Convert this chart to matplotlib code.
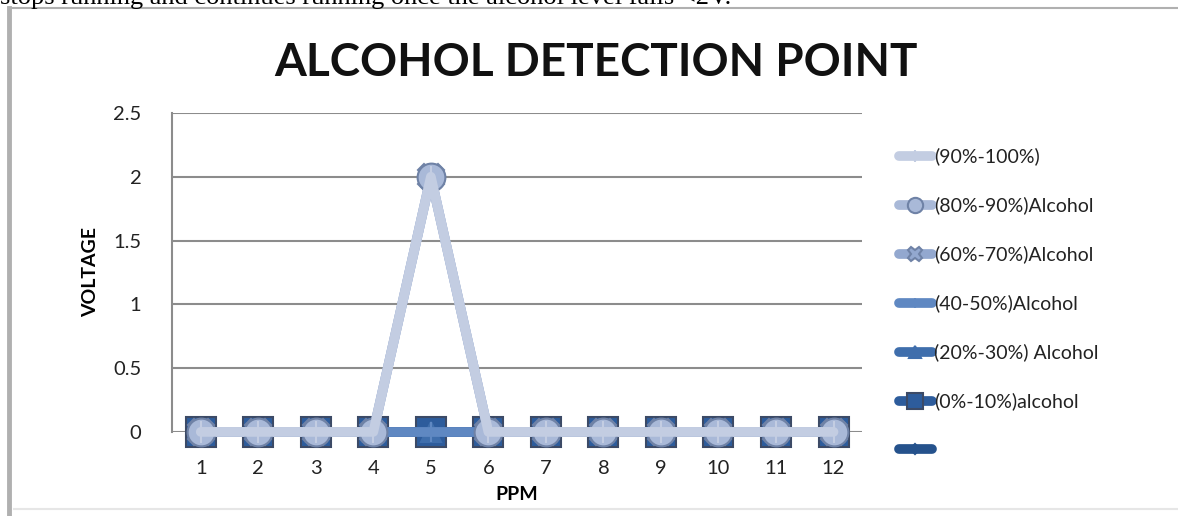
import matplotlib.pyplot as plt
from matplotlib.lines import Line2D

ppm = [1, 2, 3, 4, 5, 6, 7, 8, 9, 10, 11, 12]
yticks = [0, 0.5, 1, 1.5, 2, 2.5]

labels = ['(90%-100%)', '(80%-90%)Alcohol', '(60%-70%)Alcohol', '(40-50%)Alcohol',
          '(20%-30%) Alcohol', '(0%-10%)alcohol', ' ']
v90 = [0, 0, 0, 0, 2, 0, 0, 0, 0, 0, 0, 0]
v80 = [0, 0, 0, 0, 2, 0, 0, 0, 0, 0, 0, 0]
v60 = [0, 0, 0, 0, 2, 0, 0, 0, 0, 0, 0, 0]
v40 = [0, 0, 0, 0, 0, 0, 0, 0, 0, 0, 0, 0]
v20 = [0, 0, 0, 0, 0, 0, 0, 0, 0, 0, 0, 0]
v0 = [0, 0, 0, 0, 0, 0, 0, 0, 0, 0, 0, 0]
vx = [0, 0, 0, 0, 0, 0, 0, 0, 0, 0, 0, 0]
series = [v90, v80, v60, v40, v20, v0, vx]

colors = ['#c3cde2', '#a9b9d8', '#93a8cf', '#5f88c2', '#3f6eac', '#2d5c9c', '#25528c']
markers = ['|', 'o', 'X', '+', '^', 's', 'D']
msizes = [16, 20, 19, 14, 15, 22, 10]
edges = ['#c3cde2', '#6f82a6', '#6f82a6', '#5f88c2', '#3f6eac', '#3c4a66', '#25528c']

plt.rcParams['font.family'] = ['Lato', 'DejaVu Sans']

fig = plt.figure(figsize=(11.78, 5.16), dpi=100)

# page text above the chart (cut off)
fig.text(0.0, 1 - 4 / 516, 'stops running and continues running once the alcohol level falls <2V.',
         family='Liberation Serif', fontsize=19, va='baseline', ha='left', color='black')

# chart frame
fig.add_artist(Line2D([0.008, 0.008], [0.0, 0.985], color='#b0b0b0', lw=3.5, transform=fig.transFigure))
fig.add_artist(Line2D([0.008, 1.0], [0.985, 0.985], color='#b0b0b0', lw=1.5, transform=fig.transFigure))
fig.add_artist(Line2D([0.012, 1.0], [0.013, 0.013], color='#e6e6e6', lw=1.5, transform=fig.transFigure))

ax = fig.add_axes([0.146, 0.163, 0.586, 0.618])

# draw darker series first, lighter ones on top
for i in range(len(series) - 1, -1, -1):
    ax.plot(ppm, series[i], color=colors[i], lw=7, marker=markers[i], ms=msizes[i],
            mfc=colors[i], mec=edges[i], mew=1.5,
            solid_capstyle='round', clip_on=False, zorder=3 + (len(series) - i), label=labels[i])

ax.set_xlim(0.5, 12.5)
ax.set_ylim(0, 2.5)
ax.set_yticks(yticks)
ax.set_yticklabels(['0', '0.5', '1', '1.5', '2', '2.5'])
ax.set_xticks(ppm)
ax.yaxis.grid(True, color='#8c8c8c', lw=1.5)
ax.set_axisbelow(True)
for s in ['top', 'right', 'bottom']:
    ax.spines[s].set_visible(False)
ax.spines['left'].set_color('#8c8c8c')
ax.spines['left'].set_linewidth(1.5)
ax.tick_params(axis='both', length=0, labelsize=14.5, colors='#222222')
ax.tick_params(axis='x', pad=20)
ax.tick_params(axis='y', pad=22)

ax.set_xlabel('PPM', fontsize=14, fontweight='bold', labelpad=7)
ax.set_ylabel('VOLTAGE', fontsize=14, fontweight='bold', labelpad=10)

fig.text(0.506, 0.878, 'ALCOHOL DETECTION POINT', ha='center', va='center',
         fontsize=33, fontweight='bold', color='#111111')

handles, labs = ax.get_legend_handles_labels()
handles = handles[::-1]
labs = labs[::-1]
leg = fig.legend(handles, labs, loc='upper left', bbox_to_anchor=(0.748, 0.748),
                 frameon=False, fontsize=14, handlelength=1.7, handletextpad=0.1,
                 labelspacing=1.6, markerscale=0.55)
for t in leg.get_texts():
    t.set_color('#222222')

fig.savefig('out.png', dpi=100)
